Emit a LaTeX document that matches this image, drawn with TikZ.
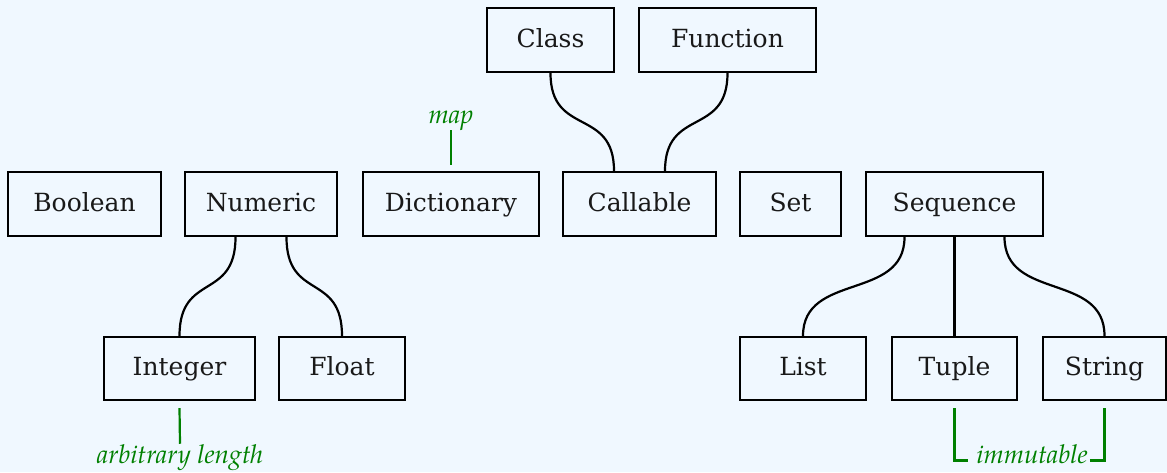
\documentclass[tikz,border=0pt]{standalone}
\usepackage{fontspec}
\setmainfont{DejaVu Serif}
\newfontfamily\lblfont{TeX Gyre Pagella}
\usetikzlibrary{calc}
\definecolor{bgcol}{HTML}{F0F8FF}
\definecolor{lblgreen}{HTML}{008000}
\tikzset{
  box/.style={draw=black, line width=2.2pt, rectangle, minimum height=64pt, inner sep=0pt,
    text height=18pt, text depth=4pt, text=black!90,
    font=\fontsize{25}{30}\selectfont},
  edge/.style={draw=black, line width=2.2pt},
  lbl/.style={inner sep=0pt, text=lblgreen, font=\fontsize{26}{30}\selectfont\lblfont\itshape},
  lblline/.style={draw=lblgreen, line width=2.2pt},
}
\begin{document}
\begin{tikzpicture}[x=1pt,y=-1pt]
\fill[bgcol] (0,0) rectangle (1167,472);
\useasboundingbox (0,0) rectangle (1167,472);
% top row
\node[box, minimum width=127pt] (Class) at (550.5,40) {Class};
\node[box, minimum width=177pt] (Function) at (727.5,40) {Function};
% middle row
\node[box, minimum width=153pt] (Boolean) at (84.5,204) {Boolean};
\node[box, minimum width=152pt] (Numeric) at (261,204) {Numeric};
\node[box, minimum width=176pt] (Dictionary) at (451,204) {Dictionary};
\node[box, minimum width=153pt] (Callable) at (639.5,204) {Callable};
\node[box, minimum width=101pt] (Set) at (790.5,204) {Set};
\node[box, minimum width=177pt] (Sequence) at (954.5,204) {Sequence};
% bottom row
\node[box, minimum width=151pt, minimum height=63pt] (Integer) at (179.5,368.5) {Integer};
\node[box, minimum width=126pt, minimum height=63pt] (Float) at (342,368.5) {Float};
\node[box, minimum width=126pt, minimum height=63pt] (List) at (803,368.5) {List};
\node[box, minimum width=125pt, minimum height=63pt] (Tuple) at (954.5,368.5) {Tuple};
\node[box, minimum width=123pt, minimum height=63pt] (String) at (1104.5,368.5) {String};
% connectors
\draw[edge] (Class.south) .. controls +(0,64) and +(0,-64) .. ($(Callable.north)+(-25.5,0)$);
\draw[edge] (Function.south) .. controls +(0,64) and +(0,-64) .. ($(Callable.north)+(25.5,0)$);
\draw[edge] ($(Numeric.south)+(-25.5,0)$) .. controls +(0,64) and +(0,-64) .. (Integer.north);
\draw[edge] ($(Numeric.south)+(25.5,0)$) .. controls +(0,64) and +(0,-64) .. (Float.north);
\draw[edge] ($(Sequence.south)+(-50,0)$) .. controls +(0,64) and +(0,-64) .. (List.north);
\draw[edge] (Sequence.south) -- (Tuple.north);
\draw[edge] ($(Sequence.south)+(50,0)$) .. controls +(0,64) and +(0,-64) .. (String.north);
% labels
\node[lbl, anchor=base] (map) at (451,123) {map};
\draw[lblline] ([yshift=6pt]Dictionary.north) -- (map.south);
\node[lbl, anchor=base] (arb) at (180,463) {arbitrary length};
\draw[lblline] ([yshift=-7pt]Integer.south) -- (arb.north);
\node[lbl, anchor=base] (imm) at (1032,463) {immutable};
\draw[lblline] ([yshift=-7pt]Tuple.south) |- ([xshift=-8pt]imm.mid west);
\draw[lblline] ([xshift=2pt]imm.mid east) -| ([yshift=-7pt]String.south);
\end{tikzpicture}
\end{document}
